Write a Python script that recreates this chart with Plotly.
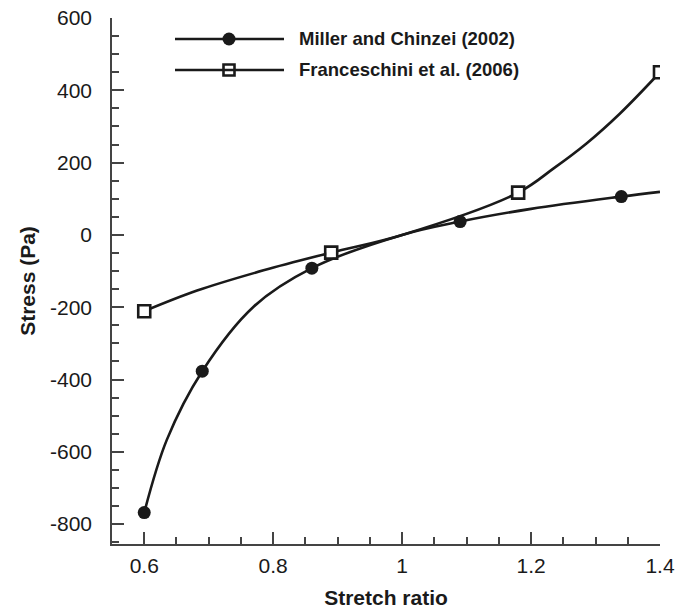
import plotly.graph_objects as go

# ---- data ----
miller_marker_x = [0.6, 0.69, 0.86, 1.09, 1.34]
miller_marker_y = [-768, -377, -92, 37, 106]
miller_curve_x = [0.6, 0.635, 0.69, 0.77, 0.86, 1.0, 1.09, 1.2, 1.34, 1.4]
miller_curve_y = [-768, -567, -377, -198, -92, 0, 37, 72, 106, 119]

fran_marker_x = [0.6, 0.89, 1.18, 1.4]
fran_marker_y = [-211, -49, 117, 450]
fran_curve_x = [0.6, 0.682, 0.785, 0.89, 1.0, 1.18, 1.235, 1.286, 1.338, 1.4]
fran_curve_y = [-211, -154, -98, -49, 0, 117, 184, 253, 336, 450]

series_names = ["Miller and Chinzei (2002)", "Franceschini et al. (2006)"]
x_tick_vals = [0.6, 0.8, 1.0, 1.2, 1.4]
x_tick_text = ["0.6", "0.8", "1", "1.2", "1.4"]
y_tick_vals = [-800, -600, -400, -200, 0, 200, 400, 600]
y_tick_text = ["-800", "-600", "-400", "-200", "0", "200", "400", "600"]

# ---- layout constants ----
W, H = 688, 611
L, R, T, B = 112, 28, 18, 67
PW, PH = W - L - R, H - T - B
INK = "#1a1a1a"
FONT = "Liberation Sans, Arial, sans-serif"


def px_x(p):
    return (p - L) / PW


def px_y(p):
    return (H - B - p) / PH


fig = go.Figure()
for cx, cy in [(miller_curve_x, miller_curve_y), (fran_curve_x, fran_curve_y)]:
    fig.add_trace(go.Scatter(x=cx, y=cy, mode="lines",
                             line=dict(color=INK, width=2.6, shape="spline", smoothing=1.0),
                             showlegend=False, hoverinfo="skip"))
fig.add_trace(go.Scatter(x=miller_marker_x, y=miller_marker_y, mode="markers",
                         name=series_names[0],
                         marker=dict(symbol="circle", size=13, color=INK, line=dict(width=0)),
                         showlegend=False))
# white fill inside open squares, then the square outline
fig.add_trace(go.Scatter(x=fran_marker_x, y=fran_marker_y, mode="markers",
                         marker=dict(symbol="square", size=10, color="white", line=dict(width=0)),
                         showlegend=False, hoverinfo="skip"))
fig.add_trace(go.Scatter(x=fran_marker_x, y=fran_marker_y, mode="markers",
                         name=series_names[1],
                         marker=dict(symbol="square-open", size=12, color=INK,
                                     line=dict(width=2.6, color=INK)),
                         showlegend=False))

# ---- custom legend (long sample lines) ----
shapes = []
annotations = []
leg_rows = [39, 70]
for i, (name, ry) in enumerate(zip(series_names, leg_rows)):
    shapes.append(dict(type="line", xref="paper", yref="paper",
                       x0=px_x(175), x1=px_x(284), y0=px_y(ry), y1=px_y(ry),
                       line=dict(color=INK, width=2.6)))
    if i == 0:
        shapes.append(dict(type="circle", xref="paper", yref="paper",
                           xsizemode="pixel", ysizemode="pixel",
                           xanchor=px_x(229), yanchor=px_y(ry),
                           x0=-6.5, x1=6.5, y0=-6.5, y1=6.5,
                           fillcolor=INK, line=dict(width=0)))
    else:
        shapes.append(dict(type="rect", xref="paper", yref="paper",
                           xsizemode="pixel", ysizemode="pixel",
                           xanchor=px_x(229), yanchor=px_y(ry),
                           x0=-5.5, x1=5.5, y0=-5.5, y1=5.5,
                           fillcolor="rgba(0,0,0,0)", line=dict(color=INK, width=2.6)))
    annotations.append(dict(text=f"<b>{name}</b>", xref="paper", yref="paper",
                            x=px_x(297), y=px_y(ry), xanchor="left", yanchor="middle",
                            showarrow=False, font=dict(family=FONT, size=18.5, color=INK)))

axis_common = dict(showline=True, linecolor="#444", linewidth=1.5, showgrid=False,
                   zeroline=False, ticks="inside", ticklen=12, tickwidth=1.5,
                   tickcolor="#444", tickfont=dict(family=FONT, size=21, color=INK))

fig.update_layout(
    width=W, height=H,
    margin=dict(l=L, r=R, t=T, b=B, autoexpand=False),
    paper_bgcolor="white", plot_bgcolor="white",
    showlegend=False,
    shapes=shapes, annotations=annotations,
    xaxis=dict(range=[0.55, 1.4], tickvals=x_tick_vals, ticktext=x_tick_text,
               minor=dict(dtick=0.05, tick0=0.6, ticks="inside", ticklen=7,
                          tickwidth=1.5, tickcolor="#444"),
               ticklabelstandoff=2,
               title=dict(text="<b>Stretch ratio</b>", standoff=14,
                          font=dict(family=FONT, size=21, color=INK)),
               **axis_common),
    yaxis=dict(range=[-855, 600], tickvals=y_tick_vals, ticktext=y_tick_text,
               minor=dict(dtick=50, tick0=0, ticks="inside", ticklen=7,
                          tickwidth=1.5, tickcolor="#444"),
               ticklabelstandoff=14,
               title=dict(text="<b>Stress (Pa)</b>", standoff=9,
                          font=dict(family=FONT, size=21, color=INK)),
               **axis_common),
)

fig.write_html("out.html", config={"displayModeBar": False},
               post_script="document.body.style.margin='0';document.body.style.padding='0';")
